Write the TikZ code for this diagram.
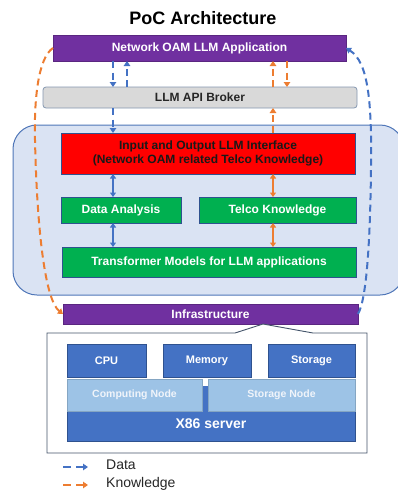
\documentclass[tikz,border=0pt]{standalone}
\usepackage{fontspec}
\setmainfont{Liberation Sans}
\usetikzlibrary{arrows.meta,calc}
\definecolor{oampurple}{HTML}{7030A0}
\definecolor{brokergray}{HTML}{D9D9D9}
\definecolor{brokerline}{HTML}{8497B0}
\definecolor{contfill}{HTML}{DAE3F3}
\definecolor{contline}{HTML}{4F76B8}
\definecolor{llmred}{HTML}{FF0000}
\definecolor{boxline}{HTML}{2F528F}
\definecolor{llmgreen}{HTML}{00B050}
\definecolor{hwblue}{HTML}{4472C4}
\definecolor{hwlight}{HTML}{9DC3E6}
\definecolor{dataline}{HTML}{4472C4}
\definecolor{knowline}{HTML}{ED7D31}
\definecolor{serverline}{HTML}{44546A}
\begin{document}
\begin{tikzpicture}[x=1pt,y=-1pt,
  box/.style={draw, inner sep=0pt, outer sep=0pt, text=white, align=center,
    font=\bfseries\fontsize{12}{14}\selectfont},
  hwbox/.style={box, fill=hwblue, draw=boxline, line width=0.6pt,
    font=\bfseries\fontsize{11}{13}\selectfont},
  dataflow/.style={draw=dataline, line width=2pt, dash pattern=on 7pt off 4.5pt,
    -{Triangle[length=5pt,width=6.5pt]}},
  knowflow/.style={draw=knowline, line width=2pt, dash pattern=on 7pt off 4.5pt,
    -{Triangle[length=5pt,width=6.5pt]}},
  datalink/.style={draw=dataline, line width=1.6pt,
    {Triangle[length=4.5pt,width=6pt]}-{Triangle[length=4.5pt,width=6pt]}},
  knowlink/.style={draw=knowline, line width=1.6pt,
    {Triangle[length=4.5pt,width=6pt]}-{Triangle[length=4.5pt,width=6pt]}},
  legendtext/.style={anchor=west, inner sep=0pt, text=black!85,
    font=\fontsize{14}{16}\selectfont}
]
\useasboundingbox (0,0) rectangle (398,491);

% title
\node[font=\bfseries\fontsize{18}{20}\selectfont, inner sep=0pt] (title) at (203,18) {PoC Architecture};

% big container
\draw[fill=contfill, draw=contline, line width=1pt, rounded corners=24pt] (13,125) rectangle (404,295);

% top boxes
\node[box, fill=oampurple, draw=oampurple!80!black, line width=0.6pt,
  minimum width=293pt, minimum height=26pt] (app) at (199.5,48) {Network OAM LLM Application};
\node[box, fill=brokergray, draw=brokerline, line width=0.8pt, rounded corners=3pt, text=black!85,
  minimum width=314pt, minimum height=21pt] (broker) at (200,97.5) {LLM API Broker};

% container content
\node[box, fill=llmred, draw=boxline, line width=0.8pt, text=black!90,
  minimum width=294pt, minimum height=41pt] (red) at (208,153.5)
  {Input and Output LLM Interface\\(Network OAM related Telco Knowledge)};
\node[box, fill=llmgreen, draw=boxline, line width=0.6pt,
  minimum width=120pt, minimum height=26pt] (data) at (121,210) {Data Analysis};
\node[box, fill=llmgreen, draw=boxline, line width=0.6pt,
  minimum width=157pt, minimum height=26pt] (telco) at (277.5,210) {Telco Knowledge};
\node[box, fill=llmgreen, draw=boxline, line width=0.6pt,
  minimum width=294pt, minimum height=30pt] (trans) at (209,262) {Transformer Models for LLM applications};

% infrastructure
\node[box, fill=oampurple, draw=oampurple!80!black, line width=0.6pt,
  minimum width=295pt, minimum height=20pt] (infra) at (210.5,314) {Infrastructure};

% server callout
\draw[fill=white, draw=serverline, line width=0.9pt]
  (47,333) -- (235,333) -- (263,324) -- (313,333) -- (367,333) -- (367,453) -- (47,453) -- cycle;

\node[hwbox, minimum width=79pt, minimum height=33pt] (cpu) at (106.5,360.5) {CPU};
\node[hwbox, minimum width=88pt, minimum height=33pt] (mem) at (207,360.5) {Memory};
\node[hwbox, minimum width=87pt, minimum height=33pt] (sto) at (311.5,360.5) {Storage};
\node[hwbox, minimum width=288pt, minimum height=62pt] (x86) at (211,410) {};
\node[inner sep=0pt, text=white, font=\bfseries\fontsize{14}{16}\selectfont] (x86label) at (211,424) {X86 server};
\fill[white] (203,379) rectangle (208,386);
\node[box, fill=hwlight, draw=hwlight!85!black, line width=0.5pt, text=white!92!hwblue,
  font=\bfseries\fontsize{10.5}{12}\selectfont,
  minimum width=135pt, minimum height=32pt] (comp) at (134.5,395) {Computing Node};
\node[box, fill=hwlight, draw=hwlight!85!black, line width=0.5pt, text=white!92!hwblue,
  font=\bfseries\fontsize{10.5}{12}\selectfont,
  minimum width=147pt, minimum height=32pt] (stonode) at (281.5,395) {Storage Node};

% vertical guide coordinates
\coordinate (bx) at (113,0);
\coordinate (bx2) at (127,0);
\coordinate (ox) at (273,0);
\coordinate (ox2) at (287,0);

% data / knowledge flows between app and broker
\draw[dataflow] (app.south -| bx) -- (broker.north -| bx);
\draw[dataflow] (broker.north -| bx2) -- (app.south -| bx2);
\draw[knowflow] (broker.north -| ox) -- (app.south -| ox);
\draw[knowflow] (app.south -| ox2) -- (broker.north -| ox2);
\draw[dataflow] (broker.south -| bx) -- (red.north -| bx);
\draw[knowflow] (red.north -| ox) -- (broker.south -| ox);

% inner links
\draw[datalink] (red.south -| bx) -- (data.north -| bx);
\draw[datalink] (data.south -| bx) -- (trans.north -| bx);
\draw[knowlink] (red.south -| ox) -- (telco.north -| ox);
\draw[knowlink] (telco.south -| ox) -- (trans.north -| ox);

% long curves
\draw[knowflow] (app.west) .. controls (38,58) and (34,100) .. (35,140)
  .. controls (37,230) and (45,300) .. (infra.west);
\draw[dataflow] (infra.east) .. controls (366,300) and (370,250) .. (371,170)
  .. controls (372,100) and (368,62) .. (app.east);

% legend
\coordinate (ld1) at (63,467);
\coordinate (ld2) at (88,467);
\coordinate (lk1) at (63,485);
\coordinate (lk2) at (88,485);
\draw[dataflow, dash pattern=on 8pt off 5pt] (ld1) -- (ld2);
\draw[knowflow, dash pattern=on 8pt off 5pt] (lk1) -- (lk2);
\node[legendtext] (ldata) at (106,465) {Data};
\node[legendtext] (lknow) at (106,484) {Knowledge};
\end{tikzpicture}
\end{document}
